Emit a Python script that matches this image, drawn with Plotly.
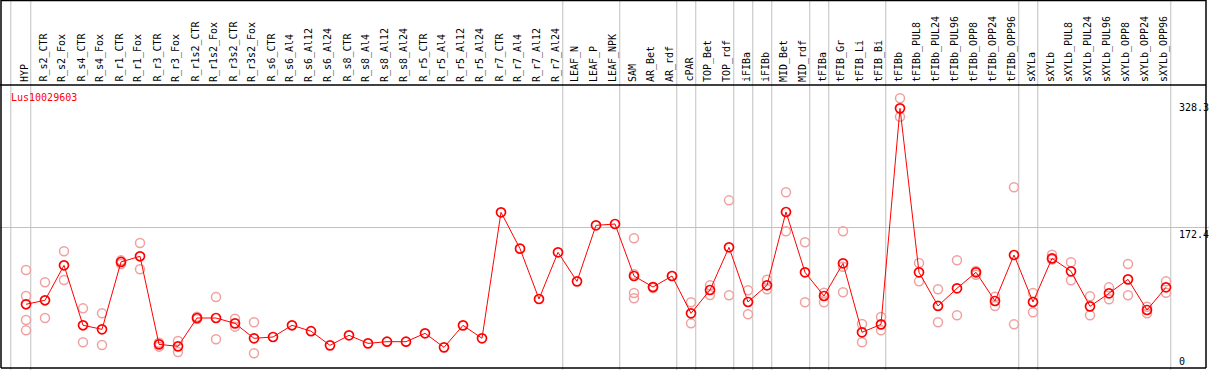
import plotly.graph_objects as go

categories = ["HYP", "R_s2_CTR", "R_s2_Fox", "R_s4_CTR", "R_s4_Fox", "R_r1_CTR", "R_r1_Fox",
              "R_r3_CTR", "R_r3_Fox", "R_r1s2_CTR", "R_r1s2_Fox", "R_r3s2_CTR", "R_r3s2_Fox",
              "R_s6_CTR", "R_s6_Al4", "R_s6_Al12", "R_s6_Al24", "R_s8_CTR", "R_s8_Al4", "R_s8_Al12",
              "R_s8_Al24", "R_r5_CTR", "R_r5_Al4", "R_r5_Al12", "R_r5_Al24", "R_r7_CTR", "R_r7_Al4",
              "R_r7_Al12", "R_r7_Al24", "LEAF_N", "LEAF_P", "LEAF_NPK", "SAM", "AR_Bet", "AR_rdf",
              "cPAR", "TOP_Bet", "TOP_rdf", "iFIBa", "iFIBb", "MID_Bet", "MID_rdf", "tFIBa",
              "tFIB_Gr", "tFIB_Li", "tFIB_Bi", "tFIBb", "tFIBb_PUL8", "tFIBb_PUL24", "tFIBb_PUL96",
              "tFIBb_OPP8", "tFIBb_OPP24", "tFIBb_OPP96", "sXYLa", "sXYLb", "sXYLb_PUL8",
              "sXYLb_PUL24", "sXYLb_PUL96", "sXYLb_OPP8", "sXYLb_OPP24", "sXYLb_OPP96"]

mean_values = [72.7, 77.9, 123.5, 45.3, 40.0, 127.9, 135.3, 20.4, 17.8, 54.8, 54.8, 47.8, 28.3,
               30.0, 45.3, 37.6, 19.1, 32.2, 21.7, 23.9, 23.9, 34.8, 16.5, 45.2, 28.3, 192.7,
               145.3, 79.6, 140.5, 102.6, 175.7, 177.4, 109.6, 95.2, 109.6, 60.9, 91.3, 147.0,
               75.7, 97.4, 193.1, 114.4, 83.5, 126.1, 36.1, 46.5, 328.3, 114.4, 70.5, 93.5,
               114.4, 77.0, 137.0, 75.7, 132.6, 115.7, 70.0, 87.0, 105.2, 65.2, 94.8]

replicates = {
    "HYP": [117.4, 83.5, 52.2, 38.7],
    "R_s2_CTR": [101.4, 54.8],
    "R_s2_Fox": [141.8, 104.4],
    "R_s4_CTR": [67.4, 23.1],
    "R_s4_Fox": [60.9, 19.6],
    "R_r1_CTR": [125.2, 130.0],
    "R_r1_Fox": [152.6, 118.3],
    "R_r3_CTR": [22.6, 17.4],
    "R_r3_Fox": [24.8, 10.4],
    "R_r1s2_CTR": [56.5, 53.5],
    "R_r1s2_Fox": [82.2, 27.0],
    "R_r3s2_CTR": [53.9, 43.5],
    "R_r3s2_Fox": [49.2, 8.7],
    "SAM": [158.8, 112.0, 87.4, 80.5],
    "AR_Bet": [95.2, 94.0],
    "AR_rdf": [109.6],
    "cPAR": [75.3, 47.8],
    "TOP_Bet": [97.4, 84.8],
    "TOP_rdf": [208.3, 84.4],
    "iFIBa": [90.9, 59.6],
    "iFIBb": [104.8, 92.2],
    "MID_Bet": [218.8, 167.9],
    "MID_rdf": [153.6, 75.3],
    "tFIBa": [87.8, 75.3],
    "tFIB_Gr": [167.9, 121.7, 88.3],
    "tFIB_Li": [47.0, 23.1],
    "tFIB_Bi": [56.1, 38.7],
    "tFIBb": [341.4, 317.4],
    "tFIBb_PUL8": [126.5, 102.6],
    "tFIBb_PUL24": [92.2, 49.2],
    "tFIBb_PUL96": [130.1, 58.3],
    "tFIBb_OPP8": [111.3, 116.0],
    "tFIBb_OPP24": [82.6, 70.5],
    "tFIBb_OPP96": [225.3, 46.5],
    "sXYLa": [87.4, 62.2],
    "sXYLb": [137.4, 131.0],
    "sXYLb_PUL8": [127.5, 104.0],
    "sXYLb_PUL24": [83.1, 58.3],
    "sXYLb_PUL96": [94.8, 79.2],
    "sXYLb_OPP8": [125.2, 84.4],
    "sXYLb_OPP24": [69.5, 60.9],
    "sXYLb_OPP96": [102.6, 87.8],
}

group_ends = ["HYP", "R_r7_Al24", "LEAF_NPK", "AR_rdf", "cPAR", "TOP_rdf", "iFIBa", "iFIBb",
              "MID_rdf", "tFIBa", "tFIB_Bi", "tFIBb_OPP96", "sXYLa", "sXYLb_OPP96"]

y_tick_values = [0, 172.4, 328.3]
y_tick_labels = ["0", "172.4", "328.3"]
grid_values = [172.4]
gene_id = "Lus10029603"

W, H = 1209, 370
PX0, PXSTEP = 26.0, 19.0          # pixel x of first category, spacing
PY0, PYSCALE = 360.0, 0.7665      # pixel y of value 0, px per unit
HEADER_PY = 85

xr = [(0 - PX0) / PXSTEP, (W - PX0) / PXSTEP]
yr = [(PY0 - H) / PYSCALE, PY0 / PYSCALE]

idx = {c: i for i, c in enumerate(categories)}
FONT = "DejaVu Sans Mono"

fig = go.Figure()

rx, ry = [], []
for c, vals in replicates.items():
    for v in vals:
        rx.append(idx[c])
        ry.append(v)
fig.add_trace(go.Scatter(x=rx, y=ry, mode="markers",
                         marker=dict(symbol="circle-open", size=9, color="#f0a0a0",
                                     line=dict(width=1.5, color="#f0a0a0")),
                         hoverinfo="y", showlegend=False))
fig.add_trace(go.Scatter(x=list(range(len(categories))), y=mean_values, mode="lines+markers",
                         line=dict(color="#ff0000", width=1),
                         marker=dict(symbol="circle-open", size=9, color="#ff0000",
                                     line=dict(width=1.7, color="#ff0000")),
                         text=categories, hoverinfo="text+y", showlegend=False))

shapes = []
def px2paper_x(px):
    return px / W
def py2paper_y(py):
    return 1 - py / H

shapes.append(dict(type="line", xref="x", yref="paper", x0=-0.8, x1=-0.8, y0=0, y1=1,
                   line=dict(color="#c0c0c0", width=1), layer="below"))
for c in group_ends:
    xv = idx[c] + 0.25
    shapes.append(dict(type="line", xref="x", yref="paper", x0=xv, x1=xv, y0=0, y1=1,
                       line=dict(color="#c0c0c0", width=1), layer="below"))
# frame
for (x0, y0, x1, y1) in [(1, 0.5, 1206, 0.5), (1, 368, 1206, 368), (1, 0, 1, 368),
                         (1206, 0, 1206, 368), (0, HEADER_PY, 1206, HEADER_PY)]:
    shapes.append(dict(type="line", xref="paper", yref="paper",
                       x0=px2paper_x(x0), x1=px2paper_x(x1),
                       y0=py2paper_y(y0), y1=py2paper_y(y1),
                       line=dict(color="#000000", width=1.5)))

annotations = []
for i, c in enumerate(categories):
    annotations.append(dict(x=i - 0.1, y=py2paper_y(HEADER_PY - 1), xref="x", yref="paper",
                            text=c, textangle=-90, showarrow=False,
                            xanchor="center", yanchor="bottom",
                            font=dict(family=FONT, size=10, color="#000000")))
for v, t in zip(y_tick_values, y_tick_labels):
    anchor = "top" if 0 < v < max(y_tick_values) else "middle"
    shift = -1 if v == 0 else (1 if anchor == "top" else 1)
    annotations.append(dict(x=px2paper_x(1177), y=v, xref="paper", yref="y", text=t,
                            showarrow=False, xanchor="left", yanchor=anchor, yshift=shift,
                            font=dict(family=FONT, size=10, color="#000000")))
annotations.append(dict(x=px2paper_x(9), y=py2paper_y(97), xref="paper", yref="paper",
                        text=gene_id, showarrow=False, xanchor="left", yanchor="middle",
                        font=dict(family=FONT, size=10, color="#ff0000")))

fig.update_layout(
    width=W, height=H, margin=dict(l=0, r=0, t=0, b=0),
    paper_bgcolor="white", plot_bgcolor="white", hovermode=False,
    xaxis=dict(range=xr, showgrid=False, zeroline=False, showticklabels=False,
               showline=False, ticks="", fixedrange=True),
    yaxis=dict(range=yr, tickvals=grid_values, showgrid=True, gridcolor="#c0c0c0",
               gridwidth=1, zeroline=False, showticklabels=False, showline=False,
               ticks="", fixedrange=True),
    shapes=shapes, annotations=annotations, showlegend=False,
)

fig.write_html("out.html", config={"displayModeBar": False},
               post_script="document.body.style.margin='0';document.body.style.overflow='hidden';")
